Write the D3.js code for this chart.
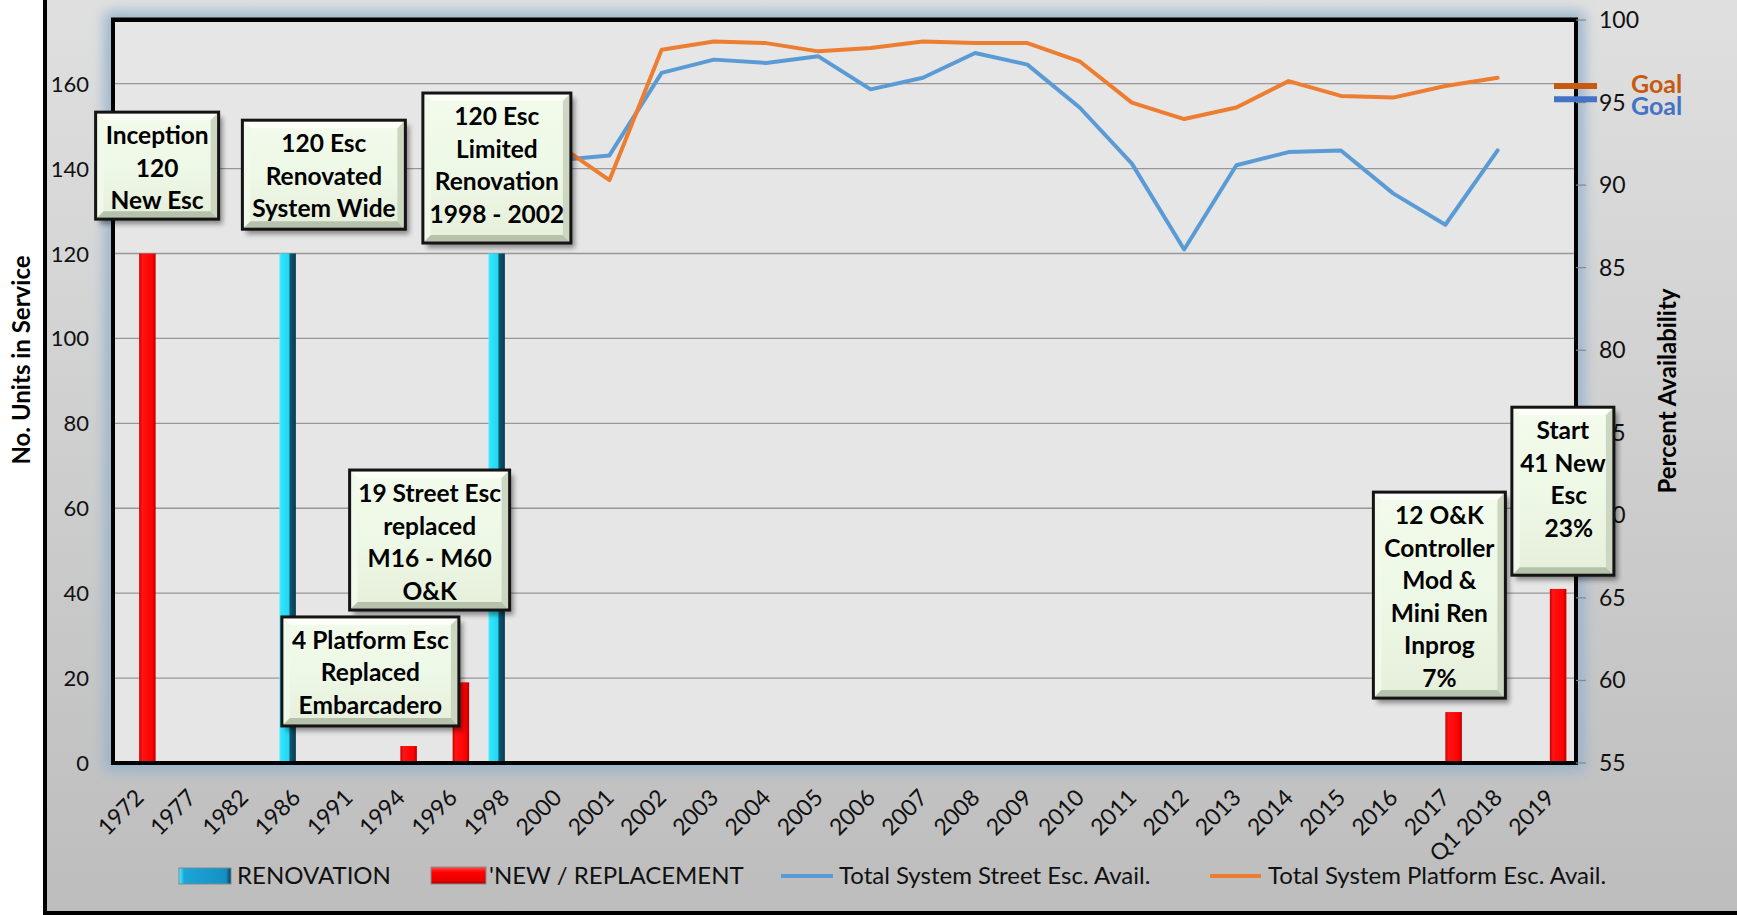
<!DOCTYPE html>
<html>
<head>
<meta charset="utf-8">
<script src="https://cdn.jsdelivr.net/npm/d3@7"></script>
<style>
html, body { margin: 0; padding: 0; background: #fff; }
svg { display: block; font-family: Lato, "Open Sans", sans-serif; }
</style>
</head>
<body>
<script>
// ---------------------------------------------------------------
// data
// ---------------------------------------------------------------
var categories = ["1972", "1977", "1982", "1986", "1991", "1994", "1996", "1998",
                  "2000", "2001", "2002", "2003", "2004", "2005", "2006", "2007",
                  "2008", "2009", "2010", "2011", "2012", "2013", "2014", "2015",
                  "2016", "2017", "Q1 2018", "2019"]

var renovation  = [0, 0, 0, 120, 0, 0, 0, 120, 0, 0, 0, 0, 0, 0, 0, 0, 0, 0, 0, 0, 0, 0, 0, 0, 0, 0, 0, 0]
var replacement = [120, 0, 0, 0, 0, 4, 19, 0, 0, 0, 0, 0, 0, 0, 0, 0, 0, 0, 0, 0, 0, 0, 0, 0, 0, 12, 0, 41]

var streetAvail   = [null, null, null, null, null, null, null, null,
                     91.5, 91.8, 96.8, 97.6, 97.4, 97.8, 95.8, 96.5, 98.0, 97.3,
                     94.7, 91.3, 86.1, 91.2, 92.0, 92.1, 89.5, 87.6, 92.1, null]
var platformAvail = [null, null, null, null, null, null, null, null,
                     92.5, 90.3, 98.2, 98.7, 98.6, 98.1, 98.3, 98.7, 98.6, 98.6,
                     97.5, 95.0, 94.0, 94.7, 96.3, 95.4, 95.3, 96.0, 96.5, null]

var goalPlatform = 96
var goalStreet   = 95.2

var leftTicks  = [0, 20, 40, 60, 80, 100, 120, 140, 160]
var rightTicks = [55, 60, 65, 70, 75, 80, 85, 90, 95, 100]

var notes = [
	{cat: "1972", dx: 18,  top: 153.3, w: 123, h: 107, lines: ["Inception", "120", "New Esc"]},
	{cat: "1986", dx: 28,  top: 151.4, w: 163, h: 109, lines: ["120 Esc", "Renovated", "System Wide"]},
	{cat: "1998", dx: -8,  top: 157.8, w: 148, h: 150, lines: ["120 Esc", "Limited", "Renovation", "1998 - 2002"]},
	{cat: "1996", dx: -23, top: 69.0,  w: 160, h: 140, lines: ["19 Street Esc", "replaced", "M16 - M60", "O&K"]},
	{cat: "1994", dx: -30, top: 34.4,  w: 177, h: 109, lines: ["4 Platform Esc", "Replaced", "Embarcadero"]},
	{cat: "2017", dx: -6,  top: 63.8,  w: 132, h: 206, lines: ["12 O&K", "Controller", "Mod &", "Mini Ren", "Inprog", "7%"]},
	{cat: "2019", dx: 13,  top: 83.8,  w: 102, h: 168, lines: ["Start", "41 New", "\u00a0\u00a0Esc", "\u00a0\u00a023%"]}
]

// ---------------------------------------------------------------
// setup
// ---------------------------------------------------------------
var W = 1737, H = 915
  , L = 113, R = 1576, T = 20, B = 763

var svg = d3.select("body").append("svg")
			.attr("width", W)
			.attr("height", H)

var x  = d3.scaleBand().domain(categories).range([L, R]).padding(0)
  , xs = d3.scaleBand().domain(["ren", "new"]).range([x.bandwidth() / 2 - 16.5, x.bandwidth() / 2 + 16.5])
  , yL = d3.scaleLinear().domain([0, 175]).range([B, T])
  , yR = d3.scaleLinear().domain([55, 100]).range([B, T])

var defs = svg.append("defs")

function grad(id, stops, vertical) {
	var g = defs.append("linearGradient").attr("id", id)
	if (vertical) g.attr("x1", 0).attr("y1", 0).attr("x2", 0).attr("y2", 1)
	stops.forEach(function (s) {
		g.append("stop").attr("offset", s[0]).attr("stop-color", s[1])
	})
}

grad("bg",     [[0, "#e0e0e0"], [1, "#bdbdbd"]], true)
grad("renBar", [[0, "#5cf3ff"], [0.1, "#33e4fc"], [0.58, "#22d6f2"], [0.64, "#0d5874"], [1, "#083b50"]])
grad("newBar", [[0, "#c80000"], [0.18, "#ff1414"], [0.8, "#ff0000"], [1, "#b80000"]])
grad("renKey", [[0, "#55f0ff"], [0.1, "#1aa6d6"], [0.9, "#1690c2"], [1, "#0a3d55"]])
grad("newKey", [[0, "#ff5050"], [0.3, "#ff0000"], [0.8, "#e80000"], [1, "#a80000"]], true)
grad("boxFill", [[0, "#f3fbec"], [0.5, "#eef8e6"], [1, "#e5efdb"]], true)

defs.append("filter").attr("id", "glow").attr("x", "-10%").attr("y", "-10%").attr("width", "120%").attr("height", "120%")
	.append("feGaussianBlur").attr("stdDeviation", 7)
defs.append("filter").attr("id", "shadow").attr("x", "-20%").attr("y", "-20%").attr("width", "140%").attr("height", "140%")
	.append("feGaussianBlur").attr("stdDeviation", 2.5)

// ---------------------------------------------------------------
// background, plot area
// ---------------------------------------------------------------
svg.append("rect")
	.attr("x", 45).attr("y", -10).attr("width", W).attr("height", 923)
	.attr("fill", "url(#bg)").attr("stroke", "#000").attr("stroke-width", 4)

svg.append("rect")
	.attr("x", L).attr("y", T).attr("width", R - L).attr("height", B - T)
	.attr("fill", "none").attr("stroke", "#94b2cc").attr("stroke-width", 16)
	.attr("filter", "url(#glow)")

svg.append("rect")
	.attr("x", L).attr("y", T).attr("width", R - L).attr("height", B - T)
	.attr("fill", "#e6e6e6")

svg.append("g").selectAll("line")
	.data(leftTicks.slice(1))
	.enter().append("line")
	.attr("x1", L).attr("x2", R)
	.attr("y1", function (d) { return yL(d) }).attr("y2", function (d) { return yL(d) })
	.attr("stroke", "#979797").attr("stroke-width", 1.3)

// ---------------------------------------------------------------
// bars
// ---------------------------------------------------------------
var bars = svg.append("g")
bars.selectAll(".ren")
	.data(categories.map(function (c, i) { return {c: c, v: renovation[i]} }).filter(function (d) { return d.v > 0 }))
	.enter().append("rect")
	.attr("x", function (d) { return x(d.c) + xs("ren") }).attr("width", xs.bandwidth())
	.attr("y", function (d) { return yL(d.v) }).attr("height", function (d) { return B - yL(d.v) })
	.attr("fill", "url(#renBar)")

bars.selectAll(".new")
	.data(categories.map(function (c, i) { return {c: c, v: replacement[i]} }).filter(function (d) { return d.v > 0 }))
	.enter().append("rect")
	.attr("x", function (d) { return x(d.c) + xs("new") }).attr("width", xs.bandwidth())
	.attr("y", function (d) { return yL(d.v) }).attr("height", function (d) { return B - yL(d.v) })
	.attr("fill", "url(#newBar)")

// ---------------------------------------------------------------
// lines
// ---------------------------------------------------------------
var line = d3.line()
	.defined(function (d) { return d.v != null })
	.x(function (d) { return x(d.c) + x.bandwidth() / 2 })
	.y(function (d) { return yR(d.v) })

function series(vals, color) {
	svg.append("path")
		.datum(categories.map(function (c, i) { return {c: c, v: vals[i]} }))
		.attr("d", line)
		.attr("fill", "none").attr("stroke", color).attr("stroke-width", 4)
		.attr("stroke-linejoin", "round").attr("stroke-linecap", "round")
}
series(streetAvail, "#5b9bd5")
series(platformAvail, "#ed7d31")

// ---------------------------------------------------------------
// frame + axes
// ---------------------------------------------------------------
svg.append("rect")
	.attr("x", L).attr("y", T).attr("width", R - L).attr("height", B - T)
	.attr("fill", "none").attr("stroke", "#000").attr("stroke-width", 4)
svg.append("line").attr("x1", L - 2).attr("x2", R + 2).attr("y1", T - 1).attr("y2", T - 1)
	.attr("stroke", "#000").attr("stroke-width", 3)

svg.append("g").selectAll("text")
	.data(leftTicks)
	.enter().append("text")
	.attr("x", 89).attr("y", function (d) { return yL(d) + 8 })
	.attr("text-anchor", "end").attr("font-size", 22).attr("fill", "#111")
	.text(function (d) { return d })

var rAxis = svg.append("g")
rAxis.selectAll("line")
	.data(rightTicks)
	.enter().append("line")
	.attr("x1", R).attr("x2", R + 10)
	.attr("y1", function (d) { return yR(d) }).attr("y2", function (d) { return yR(d) })
	.attr("stroke", "#868686").attr("stroke-width", 1.2)
rAxis.selectAll("text")
	.data(rightTicks)
	.enter().append("text")
	.attr("x", 1599).attr("y", function (d) { return yR(d) + 8 })
	.attr("font-size", 23).attr("fill", "#111")
	.text(function (d) { return d })

svg.append("g").selectAll("text")
	.data(categories)
	.enter().append("text")
	.attr("transform", function (d) { return "translate(" + (x(d) + x.bandwidth() / 2 + 6) + ",799) rotate(-45)" })
	.attr("text-anchor", "end").attr("font-size", 23).attr("fill", "#111")
	.text(function (d) { return d })

svg.append("text")
	.attr("transform", "translate(30,360) rotate(-90)")
	.attr("text-anchor", "middle").attr("font-size", 24).attr("font-weight", "bold")
	.text("No. Units in Service")
svg.append("text")
	.attr("transform", "translate(1676,391) rotate(-90)")
	.attr("text-anchor", "middle").attr("font-size", 24).attr("font-weight", "bold")
	.text("Percent Availability")

// ---------------------------------------------------------------
// callouts
// ---------------------------------------------------------------
notes.forEach(function (a) {
	var cx = x(a.cat) + x.bandwidth() / 2 + a.dx
	  , l = cx - a.w / 2, r = l + a.w
	  , t = yL(a.top), b = t + a.h
	  , e = 8
	  , g = svg.append("g")

	g.append("rect").attr("x", l + 4).attr("y", t + 5).attr("width", a.w).attr("height", a.h)
		.attr("fill", "#000").attr("opacity", 0.4).attr("filter", "url(#shadow)")
	g.append("rect").attr("x", l).attr("y", t).attr("width", a.w).attr("height", a.h)
		.attr("fill", "url(#boxFill)")

	var bevel = [
		[[l, t], [r, t], [r - e, t + e], [l + e, t + e], "#fbfff7"],
		[[l, t], [l + e, t + e], [l + e, b - e], [l, b], "#f1f9ea"],
		[[l, b], [l + e, b - e], [r - e, b - e], [r, b], "#b7c2ac"],
		[[r, t], [r, b], [r - e, b - e], [r - e, t + e], "#ccd6c1"]
	]
	bevel.forEach(function (p) {
		g.append("polygon").attr("points", p.slice(0, 4).map(function (q) { return q.join(",") }).join(" "))
			.attr("fill", p[4])
	})
	g.append("rect").attr("x", l).attr("y", t).attr("width", a.w).attr("height", a.h)
		.attr("fill", "none").attr("stroke", "#141414").attr("stroke-width", 3)

	g.append("text")
		.attr("text-anchor", "middle").attr("font-size", 24.5).attr("font-weight", "bold").attr("fill", "#000")
		.selectAll("tspan")
		.data(a.lines)
		.enter().append("tspan")
		.attr("x", cx).attr("y", function (d, i) { return t + 32 + i * 32.5 })
		.text(function (d) { return d })
})

// ---------------------------------------------------------------
// goal markers
// ---------------------------------------------------------------
svg.append("line").attr("x1", 1554).attr("x2", 1597)
	.attr("y1", yR(goalPlatform)).attr("y2", yR(goalPlatform))
	.attr("stroke", "#c55a11").attr("stroke-width", 6)
svg.append("line").attr("x1", 1554).attr("x2", 1597)
	.attr("y1", yR(goalStreet)).attr("y2", yR(goalStreet))
	.attr("stroke", "#4472c4").attr("stroke-width", 6)
svg.append("text").attr("x", 1631).attr("y", yR(goalPlatform) + 7)
	.attr("font-size", 25).attr("font-weight", "bold").attr("fill", "#c55a11").text("Goal")
svg.append("text").attr("x", 1631).attr("y", yR(goalStreet) + 16)
	.attr("font-size", 25).attr("font-weight", "bold").attr("fill", "#4472c4").text("Goal")

// ---------------------------------------------------------------
// legend
// ---------------------------------------------------------------
var lg = svg.append("g").attr("font-size", 24).attr("fill", "#111")

lg.append("rect").attr("x", 179).attr("y", 868).attr("width", 52).attr("height", 16)
	.attr("fill", "url(#renKey)").attr("stroke", "#7a8a94").attr("stroke-width", 1)
lg.append("text").attr("x", 237).attr("y", 884).text("RENOVATION")

lg.append("rect").attr("x", 431).attr("y", 867).attr("width", 55).attr("height", 17)
	.attr("fill", "url(#newKey)").attr("stroke", "#8a8a8a").attr("stroke-width", 1)
lg.append("text").attr("x", 489).attr("y", 884).text("'NEW / REPLACEMENT")

lg.append("line").attr("x1", 781).attr("x2", 833).attr("y1", 876).attr("y2", 876)
	.attr("stroke", "#5b9bd5").attr("stroke-width", 4)
lg.append("text").attr("x", 839).attr("y", 884).text("Total System Street Esc. Avail.")

lg.append("line").attr("x1", 1210).attr("x2", 1261).attr("y1", 876).attr("y2", 876)
	.attr("stroke", "#ed7d31").attr("stroke-width", 4)
lg.append("text").attr("x", 1268).attr("y", 884).text("Total System Platform Esc. Avail.")
</script>
</body>
</html>
